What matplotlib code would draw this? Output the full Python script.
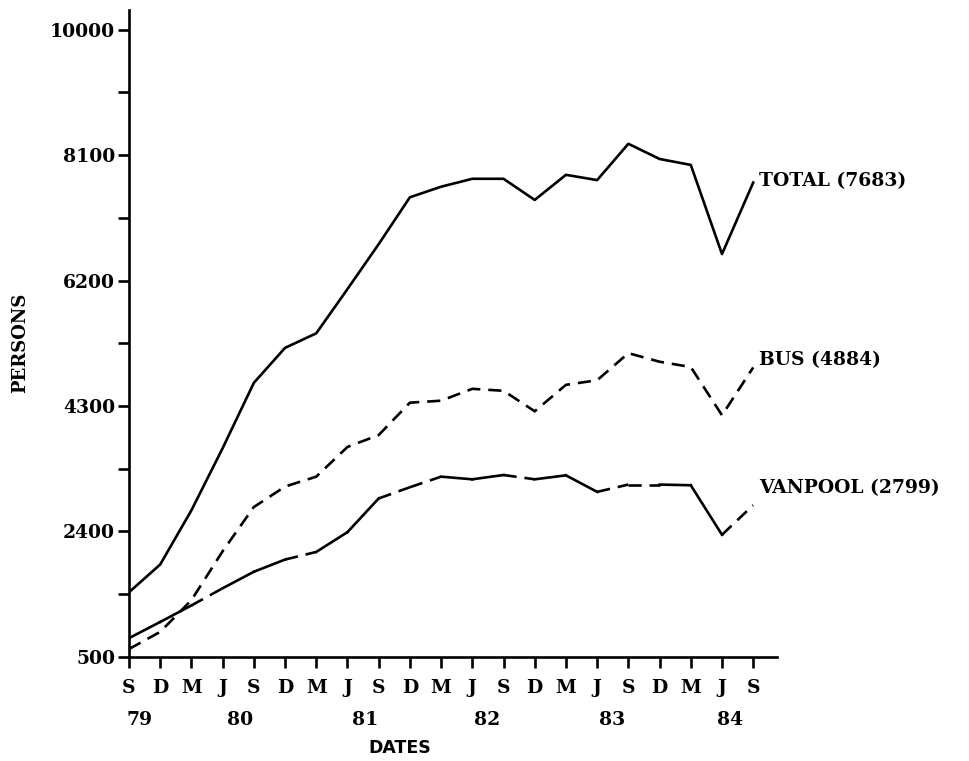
import matplotlib
matplotlib.use('Agg')
import matplotlib.pyplot as plt
import matplotlib.transforms as mtransforms
import numpy as np

# 数据: 1979年9月 - 1984年9月, 每季度
months = ['S', 'D', 'M', 'J'] * 5 + ['S']
years = ['79', '80', '81', '82', '83', '84']
total = [1480, 1900, 2720, 3660, 4650, 5180, 5400, 6070, 6750, 7460, 7620,
         7740, 7740, 7420, 7800, 7720, 8270, 8040, 7950, 6600, 7683]
bus = [620, 880, 1360, 2100, 2770, 3080, 3230, 3680, 3860, 4350, 4380,
       4560, 4530, 4220, 4620, 4690, 5100, 4970, 4890, 4160, 4884]
vanpool = [785, 1030, 1280, 1540, 1790, 1975, 2090, 2390, 2900, 3070, 3230,
           3190, 3255, 3190, 3250, 3000, 3110, 3110, 3100, 2350, 2799]

# 样式 (vanpool 线段实线/虚线交替)
van_styles = ['-', '-', 'd', '-', '-', 'd', '-', '-', 'd', 'd',
              '-', '-', 'd', '-', '-', 'd', 'd', '-', '-', 'd']
year_pos = [0.35, 3.56, 7.56, 11.47, 15.48, 19.26]

serif = ['DejaVu Serif']
dash = (0, (5, 3))
lw = 1.9
fs = 13.5

fig = plt.figure(figsize=(9.69, 7.61), dpi=100)
ax = fig.add_axes([0.1331, 0.1367, 0.669, 0.8502])

x = np.arange(len(total))
ax.plot(x, total, color='black', lw=lw)
ax.plot(x, bus, color='black', lw=lw, linestyle=dash)
for i, st in enumerate(van_styles):
    ax.plot(x[i:i + 2], vanpool[i:i + 2], color='black', lw=lw,
            linestyle='-' if st == '-' else dash)

# 线条标签
label_kw = dict(textcoords='offset points', fontsize=fs, fontweight='bold',
                family=serif, va='center', ha='left')
ax.annotate(f'TOTAL ({total[-1]})', xy=(x[-1], total[-1]), xytext=(4, 1), **label_kw)
ax.annotate(f'BUS ({bus[-1]})', xy=(x[-1], bus[-1]), xytext=(4, 5), **label_kw)
ax.annotate(f'VANPOOL ({vanpool[-1]})', xy=(x[-1], vanpool[-1]), xytext=(4, 12), **label_kw)

ax.set_xlim(0, 20.77)
ax.set_ylim(500, 10296)

yt = [500, 2400, 4300, 6200, 8100, 10000]
ax.set_yticks(yt)
ax.set_yticklabels([str(v) for v in yt], fontsize=fs, fontweight='bold', family=serif)
ax.set_yticks([(a + b) / 2 for a, b in zip(yt[:-1], yt[1:])], minor=True)
ax.tick_params(axis='y', which='both', direction='out', length=8, width=1.9, pad=2)

ax.set_xticks(x)
ax.set_xticklabels(months, fontsize=fs, fontweight='bold', family=serif)
ax.tick_params(axis='x', direction='out', length=8, width=1.9, pad=8)

trans = mtransforms.blended_transform_factory(ax.transData, fig.transFigure)
for yr, pos in zip(years, year_pos):
    fig.text(pos, 1 - 720 / 761, yr, transform=trans, ha='center', va='center',
             fontsize=fs, fontweight='bold', family=serif)

fig.text(20 / 969, 1 - 343 / 761, 'PERSONS', rotation=90, ha='center', va='center',
         fontsize=13, fontweight='bold', family=serif)
fig.text(400 / 969, 1 - 748 / 761, 'DATES', ha='center', va='center',
         fontsize=12.5, fontweight='bold', family=['Liberation Sans Narrow', 'DejaVu Sans'])

for s in ['top', 'right']:
    ax.spines[s].set_visible(False)
for s in ['left', 'bottom']:
    ax.spines[s].set_linewidth(1.9)

plt.savefig('out.png', dpi=100)
plt.close()
